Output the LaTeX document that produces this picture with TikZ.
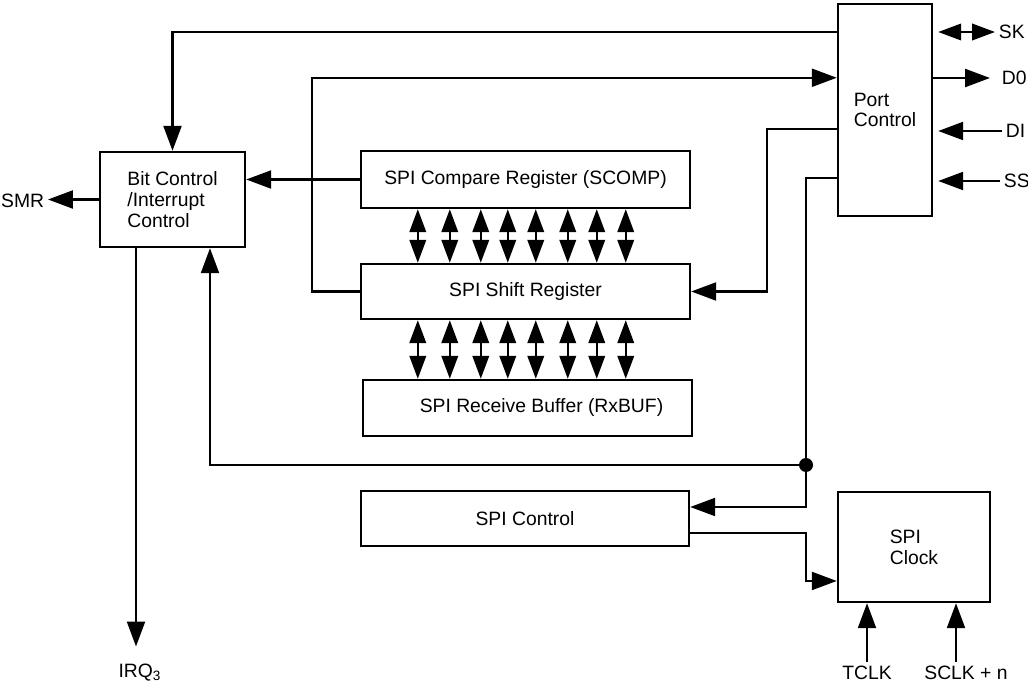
\documentclass[tikz,border=0pt]{standalone}
\usepackage{fontspec}
\setmainfont{Liberation Sans}
\usetikzlibrary{arrows.meta,positioning,calc}
\tikzset{
  blk/.style={draw,line width=1.4pt,inner sep=0pt,align=left},
  arr/.style={line width=1.3pt,-{Triangle[length=0.5cm,width=0.36cm]}},
  dbl/.style={line width=1.3pt,{Triangle[length=0.46cm,width=0.33cm]}-{Triangle[length=0.46cm,width=0.33cm]}},
  pinlbl/.style={inner sep=2pt},
}

\begin{document}
\begin{tikzpicture}[x=0.02cm,y=-0.02cm,font=\fontsize{11}{11.8}\selectfont]
\useasboundingbox (0,0) rectangle (1028,685);
% blocks
\node[blk,minimum width=1.88cm,minimum height=4.24cm] (pc) at (885,110) {Port\\Control};
\node[blk,minimum width=2.9cm,minimum height=1.9cm] (bit) at (172.5,199.5) {Bit Control\\/Interrupt\\Control};
\node[blk,minimum width=6.58cm,minimum height=1.14cm] (cmp) at (525.5,179.5) {SPI Compare Register (SCOMP)};
\node[blk,minimum width=6.58cm,minimum height=1.1cm] (shr) at (525.5,291.5) {SPI Shift Register};
\node[blk,minimum width=6.58cm,minimum height=1.12cm] (rcv) at (527.5,408) {\hspace*{0.56cm}SPI Receive Buffer (RxBUF)};
\node[blk,minimum width=6.56cm,minimum height=1.1cm] (ctl) at (525,518.5) {SPI Control};
\node[blk,minimum width=3.04cm,minimum height=2.2cm] (clk) at (914,547) {SPI\\Clock};
% pins
\node[pinlbl,anchor=west] (sk) at (995,32) {SK};
\node[pinlbl,anchor=west] (d0) at (998,78) {D0};
\node[pinlbl,anchor=west] (di) at (1002,131) {DI};
\node[pinlbl,anchor=west] (ss) at (1000,181) {SS};
\node[pinlbl,anchor=east] (smr) at (48,201) {SMR};
\node[pinlbl,anchor=north] (irq) at (140,660) {IRQ\textsubscript{3}};
\node[pinlbl,anchor=north] (tclk) at (867,662) {TCLK};
\node[pinlbl,anchor=north] (sclk) at (966,662) {SCLK + n};
% port side
\draw[dbl,shorten <=0.1cm] (pc.east |- sk.west) -- (sk.west);
\draw[arr,shorten >=0.16cm] (pc.east |- d0.west) -- (d0.west);
\draw[arr,shorten >=0.1cm] (di.west) -- (pc.east |- di.west);
\draw[arr,shorten >=0.1cm] (ss.west) -- (pc.east |- ss.west);
% internal buses
\draw[arr] ([yshift=-0.58cm]pc.north west) -| (bit.north);
\draw[arr] (shr.west) -- ++(-0.96cm,0) |- ([yshift=-1.5cm]pc.north west);
\draw[arr] (cmp.west) -- (bit.east |- cmp.west);
\draw[arr] ([yshift=-2.52cm]pc.north west) -- ++(-1.4cm,0) |- (shr.east);
\coordinate (jn) at (806,465);
\draw[arr] ([yshift=-3.5cm]pc.north west) -| (jn) |- ([yshift=0.23cm]ctl.east);
\draw[arr] (jn) -| ([xshift=0.75cm]bit.south);
\fill (jn) circle (0.14cm);
\draw[arr] ([yshift=-0.29cm]ctl.east) -- ++(2.32cm,0) |- ([yshift=-0.68cm]clk.west);
\draw[arr] (bit.west) -- (smr.east |- bit.west);
\draw[arr,shorten >=0.27cm] ([xshift=-0.73cm]bit.south) -- ([xshift=-0.73cm]bit.south |- irq.north);
\draw[arr] (tclk.north) -- (tclk.north |- clk.south);
\draw[arr] ([xshift=-0.2cm]sclk.north) -- ([xshift=-0.2cm]sclk.north |- clk.south);
% parallel data paths
\foreach \d in {1.16,1.8,2.42,2.96,3.52,4.16,4.74,5.32}{
  \draw[dbl] ([xshift=\d cm]cmp.south west) -- ([xshift=\d cm]shr.north west);
  \draw[dbl] ([xshift=\d cm]shr.south west) -- ([xshift=\d cm]shr.south west |- rcv.north);
}
\end{tikzpicture}
\end{document}
